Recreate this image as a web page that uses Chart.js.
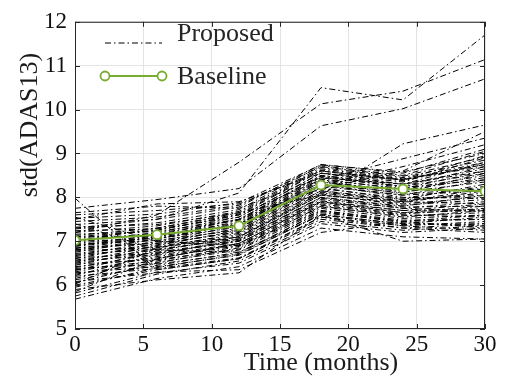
<!DOCTYPE html>
<html>
<head>
<meta charset="utf-8">
<script src="https://cdn.jsdelivr.net/npm/chart.js@4.4.1/dist/chart.umd.min.js"></script>
<style>
  body { margin: 0; background: #fff; }
</style>
</head>
<body>
<canvas id="chart" width="514" height="386"></canvas>
<script>
// time points (months)
const months = [0, 6, 12, 18, 24, 30];
const xTicks = [0, 5, 10, 15, 20, 25, 30];
const yTicks = [5, 6, 7, 8, 9, 10, 11, 12];

// baseline std(ADAS13)
const baselineStd = [7.02, 7.15, 7.35, 8.28, 8.19, 8.14];

// proposed runs, one row per run, values at each month
const proposedStd = [
  [5.68, 6.15, 6.42, 7.30, 7.10, 7.05],
  [5.75, 6.25, 6.55, 7.45, 7.25, 7.35],
  [5.82, 6.30, 6.35, 7.20, 7.45, 7.30],
  [5.90, 6.12, 6.28, 7.60, 7.00, 7.05],
  [5.95, 6.40, 6.70, 7.60, 7.40, 7.55],
  [6.00, 6.35, 6.60, 7.50, 7.30, 7.20],
  [6.05, 6.50, 6.85, 7.80, 7.55, 7.70],
  [6.08, 6.28, 6.50, 7.40, 7.20, 7.30],
  [6.12, 6.45, 6.75, 7.65, 7.45, 7.60],
  [6.15, 6.60, 6.95, 7.90, 7.70, 7.85],
  [6.20, 6.38, 6.62, 7.55, 7.35, 7.45],
  [6.22, 6.70, 7.05, 8.00, 7.80, 8.05],
  [6.25, 6.52, 6.80, 7.70, 7.48, 7.50],
  [6.28, 6.42, 6.68, 7.62, 7.38, 7.40],
  [6.30, 6.65, 6.92, 7.85, 7.62, 7.75],
  [6.33, 6.78, 7.10, 8.10, 7.90, 8.20],
  [6.35, 6.55, 6.88, 7.78, 7.58, 7.65],
  [6.38, 6.48, 6.72, 7.68, 7.42, 7.35],
  [6.40, 6.72, 7.00, 7.95, 7.75, 7.90],
  [6.42, 6.62, 6.90, 7.82, 7.60, 7.55],
  [6.45, 6.85, 7.18, 8.15, 7.95, 8.30],
  [6.48, 6.58, 6.82, 7.75, 7.52, 7.60],
  [6.50, 6.75, 7.02, 8.00, 7.78, 7.80],
  [6.52, 6.90, 7.25, 8.25, 8.05, 8.40],
  [6.55, 6.68, 6.95, 7.88, 7.65, 7.70],
  [6.57, 6.80, 7.08, 8.05, 7.85, 8.00],
  [6.60, 6.95, 7.30, 8.30, 8.10, 8.55],
  [6.62, 6.73, 7.00, 7.92, 7.70, 7.72],
  [6.65, 6.88, 7.15, 8.12, 7.92, 8.10],
  [6.67, 7.00, 7.35, 8.35, 8.15, 8.45],
  [6.70, 6.82, 7.05, 7.98, 7.75, 7.68],
  [6.72, 6.92, 7.22, 8.20, 7.98, 8.25],
  [6.75, 7.05, 7.40, 8.40, 8.20, 8.60],
  [6.78, 6.86, 7.12, 8.08, 7.82, 7.95],
  [6.80, 6.98, 7.28, 8.28, 8.05, 8.15],
  [6.83, 7.10, 7.45, 8.45, 8.25, 8.70],
  [6.85, 6.95, 7.20, 8.15, 7.90, 7.85],
  [6.88, 7.08, 7.38, 8.38, 8.12, 8.35],
  [6.90, 7.15, 7.50, 8.50, 8.30, 8.80],
  [6.93, 7.02, 7.25, 8.22, 7.95, 8.05],
  [6.95, 7.12, 7.42, 8.42, 8.18, 8.50],
  [6.98, 7.20, 7.55, 8.55, 8.35, 8.90],
  [7.00, 7.06, 7.32, 8.30, 8.00, 7.98],
  [7.03, 7.18, 7.48, 8.48, 8.22, 8.40],
  [7.06, 7.25, 7.60, 8.60, 8.38, 8.75],
  [7.10, 7.12, 7.38, 8.35, 8.08, 8.20],
  [7.13, 7.30, 7.62, 8.62, 8.40, 8.95],
  [7.16, 7.22, 7.50, 8.50, 8.25, 8.55],
  [7.20, 7.35, 7.68, 8.68, 8.45, 8.85],
  [7.24, 7.28, 7.55, 8.55, 8.30, 8.65],
  [7.28, 7.42, 7.72, 8.72, 8.50, 9.05],
  [7.32, 7.38, 7.65, 8.65, 8.42, 8.70],
  [7.38, 7.50, 7.78, 8.75, 8.55, 9.10],
  [7.45, 7.55, 7.82, 8.70, 8.48, 8.92],
  [7.52, 7.62, 7.88, 8.74, 8.58, 9.00],
  [7.60, 7.70, 7.85, 8.60, 8.40, 8.80],
  [7.55, 7.00, 6.90, 7.70, 7.45, 7.50],
  [7.40, 6.80, 6.75, 7.60, 7.35, 7.25],
  [7.98, 6.35, 6.60, 7.55, 7.30, 7.40],
  [5.85, 6.60, 6.95, 7.90, 7.65, 7.80],
  [6.02, 6.85, 7.10, 8.05, 7.88, 8.15],
  [7.65, 7.80, 7.75, 8.45, 8.30, 8.60],
  [7.50, 7.85, 7.90, 8.55, 8.40, 8.75],
  [7.30, 7.50, 8.10, 10.50, 10.22, 11.70],
  [7.20, 7.60, 8.80, 10.13, 10.42, 11.14],
  [7.75, 7.95, 8.20, 9.63, 10.02, 10.70],
  [7.00, 7.30, 7.65, 8.05, 9.22, 9.65],
  [6.90, 7.10, 7.50, 8.20, 8.60, 9.50],
  [7.10, 7.25, 7.60, 8.40, 8.88, 9.35],
  [6.80, 7.05, 7.40, 8.30, 8.70, 9.20]
];

const green = '#77AC30';
const dashDot = [6, 3, 1.5, 3];
const serif = "'Liberation Serif', 'Times New Roman', serif";

function toPoints(vals) {
  return vals.map((v, i) => ({ x: months[i], y: v }));
}

const datasets = [{
  label: 'Baseline',
  data: toPoints(baselineStd),
  borderColor: green,
  borderWidth: 2,
  pointRadius: 4.5,
  pointBorderWidth: 1.8,
  pointBorderColor: green,
  pointBackgroundColor: '#fff',
  order: 0
}];

proposedStd.forEach(row => {
  datasets.push({
    label: 'Proposed',
    data: toPoints(row),
    borderColor: '#000',
    borderWidth: 1,
    borderDash: dashDot,
    pointRadius: 0,
    order: 1
  });
});

// box, inner ticks, axis titles, legend
const decor = {
  id: 'decor',
  afterDraw(chart) {
    const ctx = chart.ctx;
    const a = chart.chartArea;
    const xs = chart.scales.x, ys = chart.scales.y;
    ctx.save();
    ctx.strokeStyle = '#262626';
    ctx.lineWidth = 1;
    ctx.setLineDash([]);
    ctx.strokeRect(a.left + 0.5, a.top + 0.5, a.right - a.left - 1, a.bottom - a.top - 1);
    ctx.beginPath();
    xTicks.forEach(t => {
      const px = Math.round(xs.getPixelForValue(t)) + 0.5;
      ctx.moveTo(px, a.bottom); ctx.lineTo(px, a.bottom - 5);
      ctx.moveTo(px, a.top); ctx.lineTo(px, a.top + 5);
    });
    yTicks.forEach(t => {
      const py = Math.round(ys.getPixelForValue(t)) + 0.5;
      ctx.moveTo(a.left, py); ctx.lineTo(a.left + 5, py);
      ctx.moveTo(a.right, py); ctx.lineTo(a.right - 5, py);
    });
    ctx.stroke();

    ctx.fillStyle = '#1a1a1a';
    ctx.font = '26px ' + serif;
    ctx.textAlign = 'center';
    ctx.textBaseline = 'alphabetic';
    ctx.fillText('Time (months)', 321, 370);
    ctx.save();
    ctx.translate(37, 125);
    ctx.rotate(-Math.PI / 2);
    ctx.fillText('std(ADAS13)', 0, 0);
    ctx.restore();

    // legend
    ctx.strokeStyle = '#000';
    ctx.lineWidth = 1;
    ctx.setLineDash(dashDot);
    ctx.beginPath();
    ctx.moveTo(105, 43); ctx.lineTo(162, 43);
    ctx.stroke();
    ctx.setLineDash([]);
    ctx.strokeStyle = green;
    ctx.lineWidth = 2;
    ctx.beginPath();
    ctx.moveTo(105, 76); ctx.lineTo(162, 76);
    ctx.stroke();
    ctx.lineWidth = 1.8;
    ctx.fillStyle = '#fff';
    [105, 162].forEach(cx => {
      ctx.beginPath();
      ctx.arc(cx, 76, 4.5, 0, Math.PI * 2);
      ctx.fill();
      ctx.stroke();
    });
    ctx.fillStyle = '#262626';
    ctx.textAlign = 'left';
    ctx.fillText('Proposed', 177, 41);
    ctx.fillText('Baseline', 177, 84);
    ctx.restore();
  }
};

new Chart(document.getElementById('chart'), {
  type: 'line',
  data: { datasets: datasets },
  options: {
    responsive: false,
    animation: false,
    layout: { padding: { left: 0, top: 19, right: 29, bottom: 0 } },
    plugins: { legend: { display: false }, tooltip: { enabled: false } },
    scales: {
      x: {
        type: 'linear',
        min: 0,
        max: 30,
        afterBuildTicks: s => { s.ticks = xTicks.map(v => ({ value: v })); },
        afterFit: s => { s.height = 57; },
        ticks: { font: { family: serif, size: 23 }, color: '#111', padding: 2, maxRotation: 0 },
        grid: { color: '#e4e4e4', drawTicks: false },
        border: { display: false }
      },
      y: {
        type: 'linear',
        min: 5,
        max: 12,
        afterBuildTicks: s => { s.ticks = yTicks.map(v => ({ value: v })); },
        afterFit: s => { s.width = 75; },
        ticks: { font: { family: serif, size: 23 }, color: '#111', padding: 8 },
        grid: { color: '#e4e4e4', drawTicks: false },
        border: { display: false }
      }
    }
  },
  plugins: [decor]
});
</script>
</body>
</html>
